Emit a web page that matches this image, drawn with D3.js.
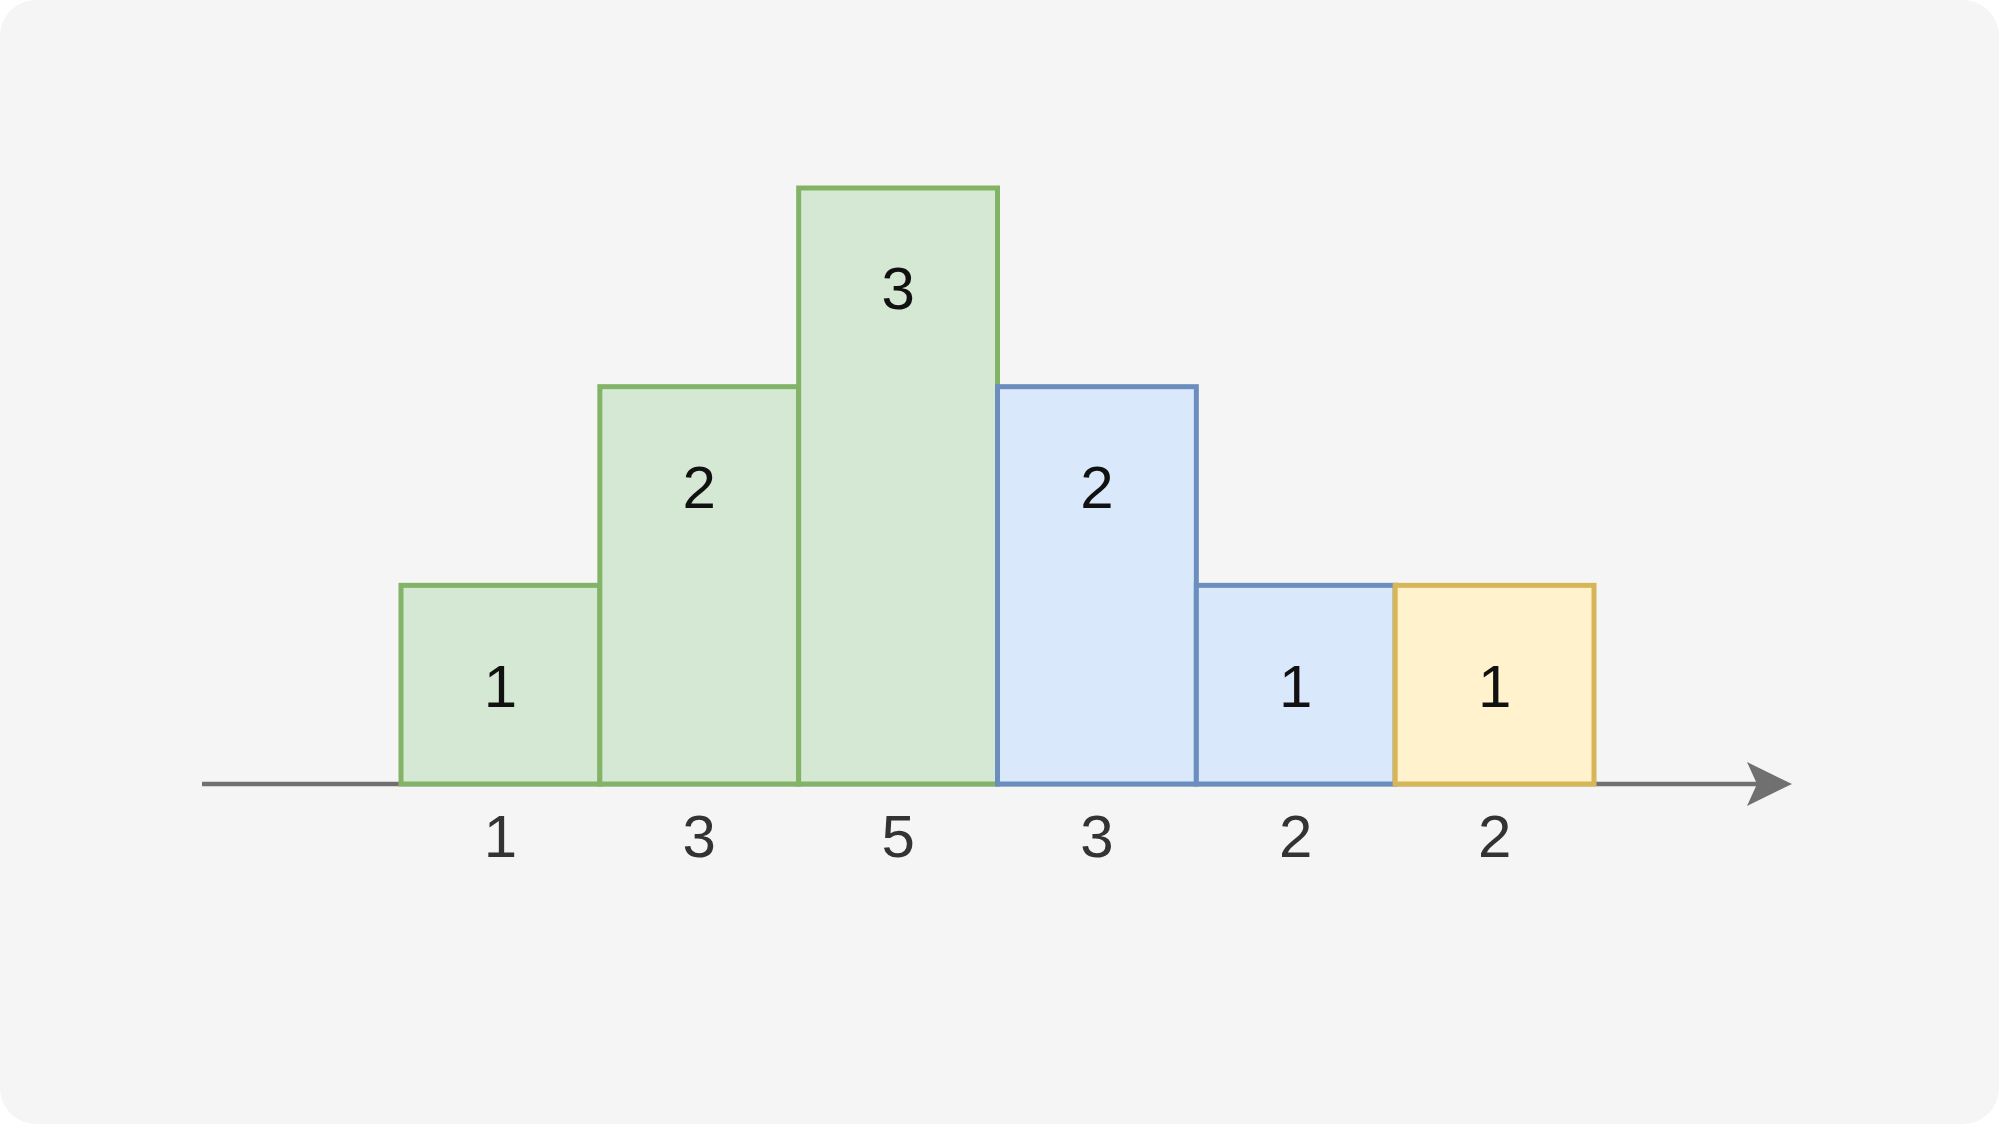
<!DOCTYPE html>
<html><head><meta charset="utf-8">
<script src="https://cdn.jsdelivr.net/npm/d3@7"></script>
<style>html,body{margin:0;padding:0;background:#fff;}svg{display:block;}</style>
</head><body>
<script>
const heights = [1, 2, 3, 2, 1, 1];
const axisLabels = ["1", "3", "5", "3", "2", "2"];
const groups = ["green", "green", "green", "blue", "blue", "yellow"];

const W = 2000, H = 1125;
const palette = {
  green: {fill: "#d5e8d4", stroke: "#82b366"},
  blue: {fill: "#dae8fc", stroke: "#6c8ebf"},
  yellow: {fill: "#fff2cc", stroke: "#d6b656"}
};
const axisColor = "#707070";

const svg = d3.select("body").append("svg").attr("width", W).attr("height", H);
svg.append("rect").attr("x", 0).attr("y", 0).attr("width", W - 1).attr("height", H - 1)
  .attr("rx", 36).attr("fill", "#f5f5f5");

const x = d3.scaleBand().domain(d3.range(heights.length)).range([401, 1594]).padding(0);
const y = d3.scaleLinear().domain([0, 3]).range([784, 188]);
const unit = y(0) - y(1);

// axis line with arrow
const defs = svg.append("defs");
defs.append("marker").attr("id", "arr").attr("viewBox", "0 0 50 50")
  .attr("refX", 13).attr("refY", 25).attr("markerWidth", 50).attr("markerHeight", 50)
  .attr("markerUnits", "userSpaceOnUse").attr("orient", "auto")
  .append("path").attr("d", "M0,3 L45,25 L0,47 L10,25 Z").attr("fill", axisColor);

svg.append("line").attr("x1", 202).attr("x2", 1760).attr("y1", y(0)).attr("y2", y(0))
  .attr("stroke", axisColor).attr("stroke-width", 4.5).attr("marker-end", "url(#arr)");

const bars = svg.append("g");
bars.selectAll("rect").data(heights).join("rect")
  .attr("x", (d, i) => x(i))
  .attr("y", d => y(d))
  .attr("width", x.bandwidth())
  .attr("height", d => y(0) - y(d))
  .attr("fill", (d, i) => palette[groups[i]].fill)
  .attr("stroke", (d, i) => palette[groups[i]].stroke)
  .attr("stroke-width", 5);

svg.append("g").selectAll("text").data(heights).join("text")
  .attr("x", (d, i) => x(i) + x.bandwidth() / 2)
  .attr("y", d => y(d) + unit / 2 + 22)
  .attr("text-anchor", "middle")
  .attr("font-family", "Liberation Sans, Arial, sans-serif")
  .attr("font-size", 60)
  .attr("fill", "#111")
  .text(d => d);

svg.append("g").selectAll("text").data(axisLabels).join("text")
  .attr("x", (d, i) => x(i) + x.bandwidth() / 2)
  .attr("y", 857)
  .attr("text-anchor", "middle")
  .attr("font-family", "Liberation Sans, Arial, sans-serif")
  .attr("font-size", 60)
  .attr("fill", "#333")
  .text(d => d);
</script>
</body></html>
